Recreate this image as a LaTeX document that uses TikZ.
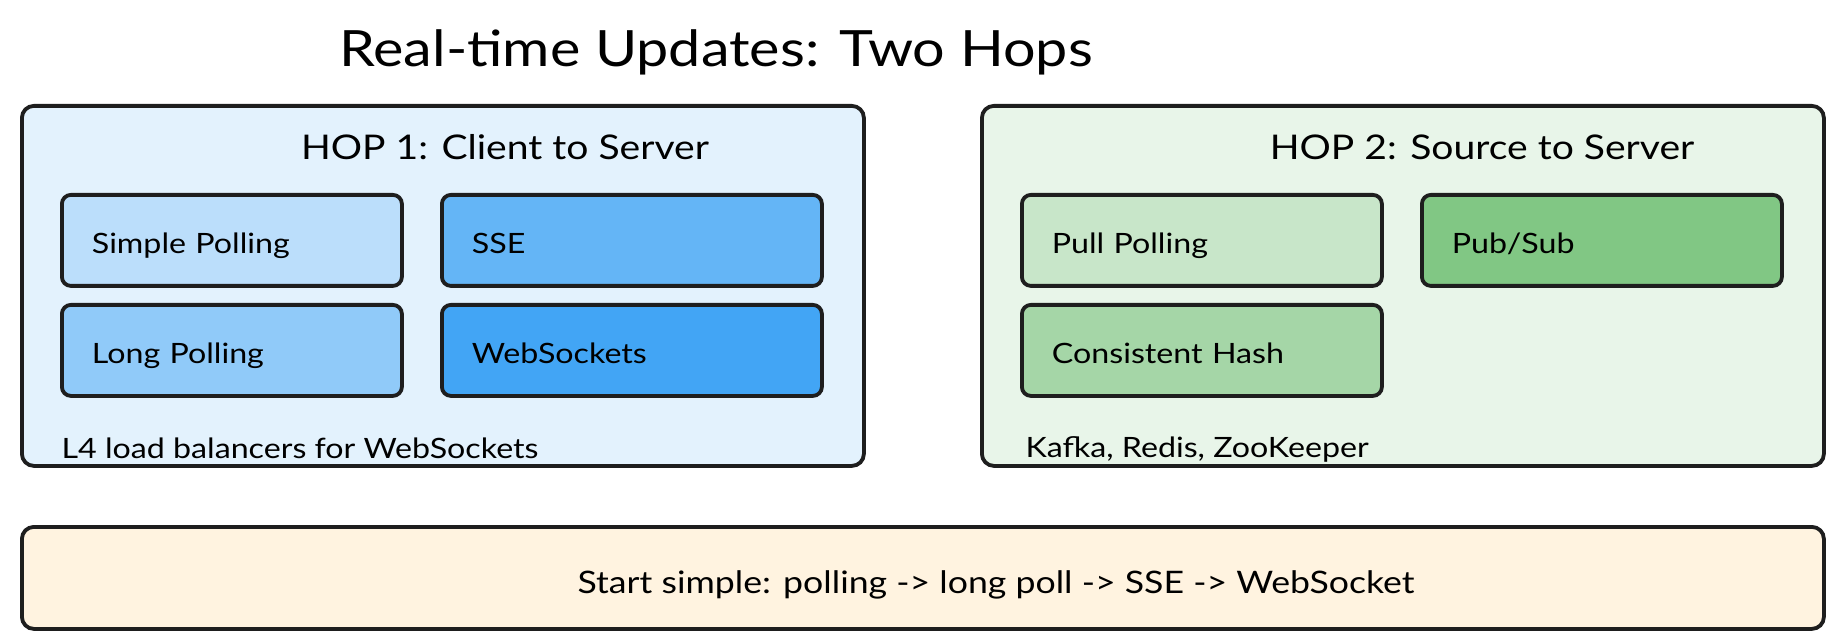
\documentclass[tikz,border=0pt]{standalone}
\usepackage{fontspec}
\setmainfont{Lato}[FakeStretch=1.15]
\definecolor{ink}{HTML}{1E1E1E}
\definecolor{hopAbg}{HTML}{E3F2FD}
\definecolor{hopBbg}{HTML}{E8F5E9}
\definecolor{tipbg}{HTML}{FFF3E0}
\definecolor{blueA}{HTML}{BBDEFB}
\definecolor{blueB}{HTML}{90CAF9}
\definecolor{blueC}{HTML}{64B5F6}
\definecolor{blueD}{HTML}{42A5F5}
\definecolor{greenA}{HTML}{C8E6C9}
\definecolor{greenB}{HTML}{A5D6A7}
\definecolor{greenC}{HTML}{81C784}
\begin{document}
\begin{tikzpicture}[x=1pt,y=-1pt,
    panel/.style={draw=ink,line width=3.8pt,rounded corners=12pt,anchor=north
        west,inner sep=0pt},
    box/.style={draw=ink,line width=3.8pt,rounded corners=9pt,anchor=north
        west,minimum height=91pt,inner xsep=30pt,inner ysep=0pt,
        text height=26pt,text depth=0pt,
        text width=#1,align=left,font=\fontsize{28}{34}\selectfont},
    hoptitle/.style={anchor=base,font=\fontsize{34}{40}\selectfont},
    note/.style={anchor=base west,font=\fontsize{28}{32}\selectfont}]

    \useasboundingbox (0,0) rectangle (1840,644);

    % the panels

    \node[panel,fill=hopAbg,minimum width=842pt,minimum height=360pt]
    (hopA) at (20,104) {};
    \node[panel,fill=hopBbg,minimum width=842pt,minimum height=360pt]
    (hopB) at (980,104) {};
    \node[panel,fill=tipbg,minimum width=1802pt,minimum height=102pt]
    (tip) at (20,525) {};

    % the boxes

    \node[box=280pt,fill=blueA] (simple) at (60,193) {Simple Polling};
    \node[box=320pt,fill=blueC] (sse) at (440,193) {SSE};
    \node[box=280pt,fill=blueB] (long) at (60,303) {Long Polling};
    \node[box=320pt,fill=blueD] (ws) at (440,303) {WebSockets};

    \node[box=300pt,fill=greenA] (pull) at (1020,193) {Pull Polling};
    \node[box=300pt,fill=greenC] (pubsub) at (1420,193) {Pub/Sub};
    \node[box=300pt,fill=greenB] (hash) at (1020,303) {Consistent Hash};

    % the texts

    \node[anchor=base,font=\fontsize{50}{58}\selectfont] (title) at (716,67)
    {Real-time Updates: Two Hops};
    \node[hoptitle] (hopAtitle) at (505,160) {HOP 1: Client to Server};
    \node[hoptitle] (hopBtitle) at (1482,160) {HOP 2: Source to Server};
    \node[note] (hopAnote) at (58,458) {L4 load balancers for WebSockets};
    \node[note] (hopBnote) at (1022,457) {Kafka, Redis, ZooKeeper};
    \node[anchor=base,font=\fontsize{31}{36}\selectfont] (tiptext) at (996,593)
    {Start simple: polling -> long poll -> SSE -> WebSocket};
  \end{tikzpicture}
\end{document}
